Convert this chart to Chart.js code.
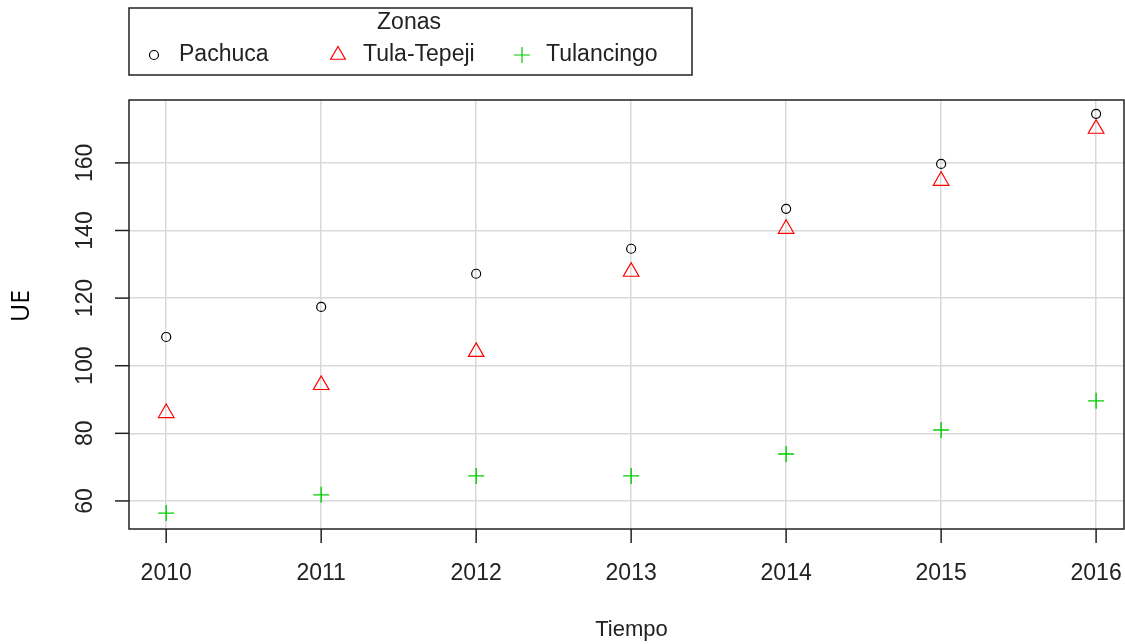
<!DOCTYPE html>
<html>
<head>
<meta charset="utf-8">
<script src="https://cdn.jsdelivr.net/npm/chart.js@4/dist/chart.umd.min.js"></script>
<style>
  html, body { margin: 0; padding: 0; background: #fff; }
  #wrap { width: 1125px; height: 644px; }
</style>
</head>
<body>
<div id="wrap"><canvas id="chart" width="1125" height="644"></canvas></div>
<script>
// Data
const years = [2010, 2011, 2012, 2013, 2014, 2015, 2016];
const pachuca = [108.5, 117.4, 127.2, 134.6, 146.4, 159.7, 174.5];
const tulaTepeji = [86.0, 94.3, 104.1, 127.8, 140.5, 154.7, 170.1];
const tulancingo = [56.4, 61.8, 67.4, 67.4, 73.9, 81.0, 89.6];
const yTicks = [60, 80, 100, 120, 140, 160];
const seriesNames = ['Pachuca', 'Tula-Tepeji', 'Tulancingo'];

const FONT = '"Liberation Sans", Arial, sans-serif';

function pts(vals) {
    return years.map((y, i) => ({ x: y, y: vals[i] }));
}

// R-style axes, box and legend
const rStyle = {
    id: 'rStyle',
    afterDraw(chart) {
        const ctx = chart.ctx;
        const a = chart.chartArea;
        const xs = chart.scales.x;
        const ys = chart.scales.y;
        ctx.save();

        // plot box
        ctx.strokeStyle = '#222';
        ctx.lineWidth = 1.5;
        ctx.strokeRect(a.left, a.top, a.right - a.left, a.bottom - a.top);

        // x ticks and labels
        ctx.fillStyle = '#222';
        ctx.font = '23px ' + FONT;
        ctx.textAlign = 'center';
        ctx.textBaseline = 'middle';
        years.forEach(v => {
            const px = xs.getPixelForValue(v);
            ctx.beginPath();
            ctx.moveTo(px, a.bottom);
            ctx.lineTo(px, a.bottom + 14);
            ctx.stroke();
            ctx.fillText(String(v), px, a.bottom + 45);
        });

        // y ticks and rotated labels
        yTicks.forEach(v => {
            const py = ys.getPixelForValue(v);
            ctx.beginPath();
            ctx.moveTo(a.left, py);
            ctx.lineTo(a.left - 14, py);
            ctx.stroke();
            ctx.save();
            ctx.translate(a.left - 43, py);
            ctx.rotate(-Math.PI / 2);
            ctx.fillText(String(v), 0, 0);
            ctx.restore();
        });

        // axis titles
        ctx.font = '22px ' + FONT;
        ctx.fillText('Tiempo', (a.left + a.right) / 2 + 5, 630);
        ctx.save();
        ctx.translate(22, 306);
        ctx.rotate(-Math.PI / 2);
        ctx.font = '25px "Open Sans", "Noto Sans", sans-serif';
        ctx.fillStyle = '#000';
        ctx.fillText('UE', 0, 0);
        ctx.restore();

        // legend
        ctx.strokeStyle = '#222';
        ctx.lineWidth = 1.5;
        ctx.strokeRect(129, 8, 563, 67);
        ctx.font = '23px ' + FONT;
        ctx.fillText('Zonas', 409, 23);
        ctx.textAlign = 'left';
        const lx = [154, 338, 522];
        const tx = [179, 363, 546];
        const ly = 55;
        // circle
        ctx.lineWidth = 1.2;
        ctx.strokeStyle = '#000';
        ctx.beginPath();
        ctx.arc(lx[0], ly, 4.5, 0, Math.PI * 2);
        ctx.stroke();
        // triangle
        ctx.strokeStyle = '#ff0000';
        ctx.beginPath();
        const r = 8.5;
        ctx.moveTo(lx[1], ly - r);
        ctx.lineTo(lx[1] + r * 0.866, ly + r * 0.5);
        ctx.lineTo(lx[1] - r * 0.866, ly + r * 0.5);
        ctx.closePath();
        ctx.stroke();
        // cross
        ctx.strokeStyle = '#00cd00';
        ctx.beginPath();
        ctx.moveTo(lx[2] - 8, ly);
        ctx.lineTo(lx[2] + 8, ly);
        ctx.moveTo(lx[2], ly - 8);
        ctx.lineTo(lx[2], ly + 8);
        ctx.stroke();
        ctx.fillStyle = '#222';
        seriesNames.forEach((n, i) => ctx.fillText(n, tx[i], ly));

        ctx.restore();
    }
};

new Chart(document.getElementById('chart'), {
    type: 'scatter',
    data: {
        datasets: [
            {
                label: seriesNames[0],
                data: pts(pachuca),
                pointStyle: 'circle',
                pointRadius: 4.5,
                borderColor: '#000',
                backgroundColor: 'rgba(0,0,0,0)',
                borderWidth: 1.2
            },
            {
                label: seriesNames[1],
                data: pts(tulaTepeji),
                pointStyle: 'triangle',
                pointRadius: 9,
                borderColor: '#ff0000',
                backgroundColor: 'rgba(0,0,0,0)',
                borderWidth: 1.2
            },
            {
                label: seriesNames[2],
                data: pts(tulancingo),
                pointStyle: 'cross',
                pointRadius: 8,
                borderColor: '#00cd00',
                backgroundColor: 'rgba(0,0,0,0)',
                borderWidth: 1.4
            }
        ]
    },
    options: {
        responsive: false,
        animation: false,
        layout: { autoPadding: false, padding: { top: 100, right: 1, left: 0, bottom: 0 } },
        plugins: {
            legend: { display: false },
            tooltip: { enabled: false }
        },
        scales: {
            x: {
                type: 'linear',
                min: 2009.76,
                max: 2016.18,
                afterBuildTicks: s => { s.ticks = years.map(v => ({ value: v })); },
                afterFit: s => { s.height = 115; },
                ticks: { display: false },
                grid: { color: '#d9d9d9', lineWidth: 1.5, drawTicks: false },
                border: { display: false }
            },
            y: {
                type: 'linear',
                min: 51.7,
                max: 178.6,
                afterBuildTicks: s => { s.ticks = yTicks.map(v => ({ value: v })); },
                afterFit: s => { s.width = 129; },
                ticks: { display: false },
                grid: { color: '#d9d9d9', lineWidth: 1.5, drawTicks: false },
                border: { display: false }
            }
        }
    },
    plugins: [rStyle]
});
</script>
</body>
</html>
